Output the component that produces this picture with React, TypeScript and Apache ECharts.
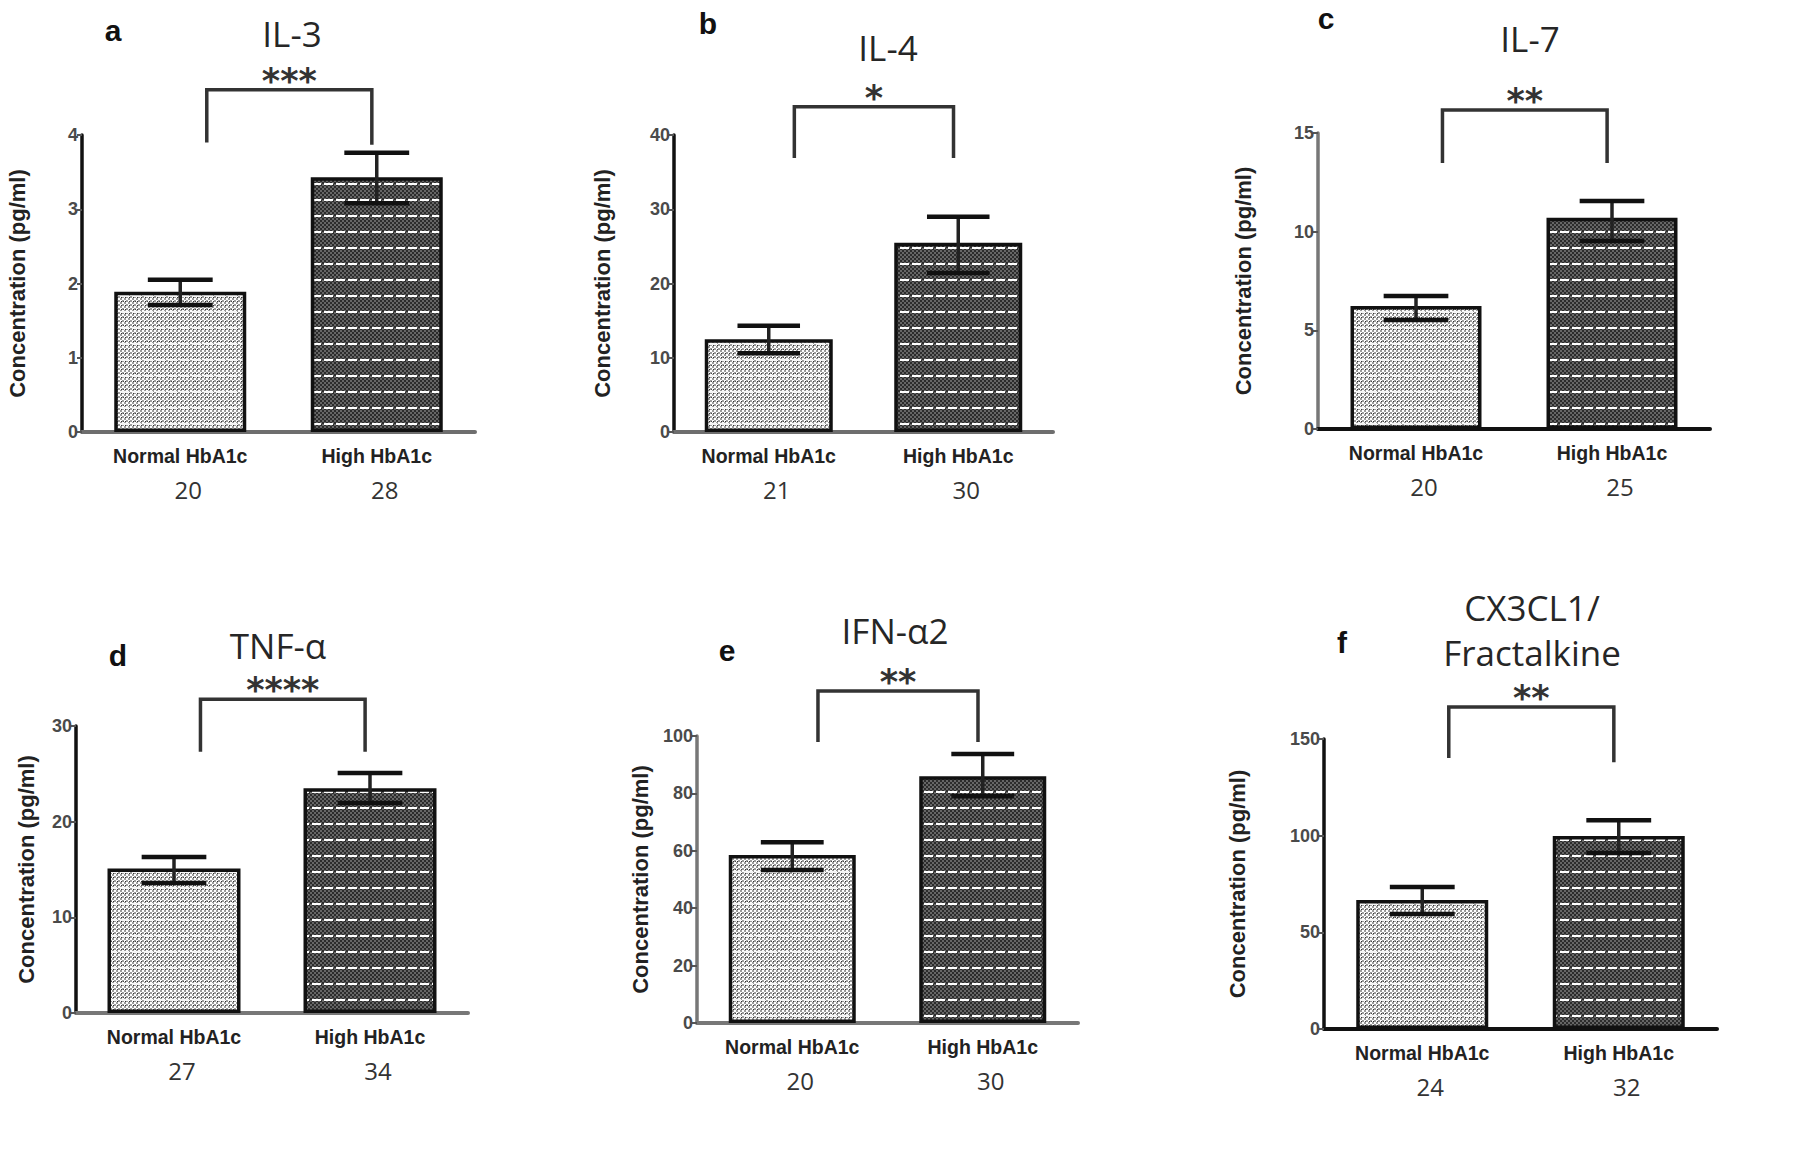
import React, { useEffect, useRef } from 'react';
import * as echarts from 'echarts';

// ---------------- data ----------------
const categories = ['Normal HbA1c', 'High HbA1c'];
const panelLetters = ['a', 'b', 'c', 'd', 'e', 'f'];
const panelTitles = ['IL-3', 'IL-4', 'IL-7', 'TNF-α', 'IFN-α2', 'CX3CL1/\nFractalkine'];
const sampleSizes = [[20, 28], [21, 30], [20, 25], [27, 34], [20, 30], [24, 32]];
const meanValues = [[1.89, 3.43], [12.5, 25.5], [6.23, 10.7], [15.1, 23.5], [58.5, 86], [66.7, 99.8]];
const errLow = [[1.71, 3.08], [10.6, 21.4], [5.52, 9.53], [13.6, 21.95], [53.3, 79], [59.5, 91]];
const errHigh = [[2.05, 3.76], [14.3, 29.0], [6.74, 11.55], [16.3, 25.1], [63, 93.7], [73.4, 108]];
const yMax = [4, 40, 15, 30, 100, 150];
const yInterval = [1, 10, 5, 10, 20, 50];
const significance = ['***', '*', '**', '****', '**', '**'];
const bracketTop = [4.61, 43.8, 16.17, 32.8, 115.7, 166.6];
const bracketLegLeft = [3.9, 36.9, 13.48, 27.3, 97.9, 140.2];
const bracketLegRight = [3.87, 36.9, 13.48, 27.3, 97.9, 138];
const yAxisName = 'Concentration (pg/ml)';

// ---------------- layout ----------------
const grids = [
  { left: 82, top: 135, width: 393, height: 297 },
  { left: 674, top: 135, width: 379, height: 297 },
  { left: 1318, top: 133, width: 392, height: 296 },
  { left: 76, top: 726, width: 392, height: 287 },
  { left: 697, top: 736, width: 381, height: 287 },
  { left: 1324, top: 739, width: 393, height: 290 },
];
const barWidths = [132, 128, 131, 133, 127, 132];
const nameGaps = [54, 61, 64, 39, 46, 76];
const yLineColors = ['#111', '#111', '#777', '#111', '#777', '#111'];
const xLineColors = ['#6e6e6e', '#6e6e6e', '#111', '#777', '#777', '#111'];
const titlePos = [[292, 33], [888, 47], [1530, 38], [278, 645], [895, 630], [1532, 630]];
const letterPos = [[113, 30], [708, 23], [1326, 18], [118, 655], [727, 650], [1342, 642]];

function makePattern(dark: boolean) {
  const w = 12, h = 16;
  const cv = document.createElement('canvas');
  cv.width = w; cv.height = h;
  const ctx = cv.getContext('2d')!;
  for (let y = 0; y < h; y++) {
    for (let x = 0; x < w; x++) {
      const chk = ((x >> 1) + (y >> 1)) % 2 === 0;
      let c;
      if (dark) c = chk ? '#2c2c2c' : '#666666';
      else {
        c = chk ? '#ffffff' : '#9c9c9c';
        if (x % 4 === 1 && y % 4 === 1) c = '#333333';
        if (x % 6 === 3 && y % 8 === 5) c = '#4a4a4a';
      }
      ctx.fillStyle = c;
      ctx.fillRect(x, y, 1, 1);
    }
  }
  // white dashed horizontal line
  ctx.fillStyle = dark ? '#ffffff' : '#f6f6f6';
  ctx.fillRect(0, 7, 9, 2);
  return { image: cv, repeat: 'repeat', imageWidth: w, imageHeight: h } as any;
}

export default function App() {
  const ref = useRef<HTMLDivElement>(null);
  useEffect(() => {
    if (!ref.current) return;
    const chart = echarts.init(ref.current, null, { renderer: 'svg' });
    const lightPat = makePattern(false);
    const darkPat = makePattern(true);

    const gridOpt = grids.map((g) => ({ ...g, containLabel: false }));
    const xAxes = grids.map((_, i) => ({
      type: 'category',
      gridIndex: i,
      data: categories,
      axisLine: { lineStyle: { color: xLineColors[i], width: 4 } },
      axisTick: { alignWithLabel: true, length: 8, lineStyle: { color: xLineColors[i], width: 3 } },
      axisLabel: {
        margin: 13,
        formatter: (v: string, idx: number) => `{n|${v}}\n{c|${sampleSizes[i][idx]}}`,
        rich: {
          n: { fontFamily: 'Liberation Sans', fontWeight: 'bold', fontSize: 19.5, color: '#222', lineHeight: 22 },
          c: { fontFamily: 'Open Sans', fontSize: 24, color: '#333', lineHeight: 44, padding: [0, 0, 0, 16] },
        },
      },
    }));
    const yAxes = grids.map((_, i) => ({
      type: 'value',
      gridIndex: i,
      min: 0,
      max: yMax[i],
      interval: yInterval[i],
      name: yAxisName,
      nameLocation: 'middle',
      nameGap: nameGaps[i],
      nameTextStyle: { fontFamily: 'Liberation Sans', fontWeight: 'bold', fontSize: 22, color: '#222' },
      splitLine: { show: false },
      axisLine: { show: true, lineStyle: { color: yLineColors[i], width: 3.5 } },
      axisTick: { show: true, length: 5, lineStyle: { color: '#555', width: 2 } },
      axisLabel: { fontFamily: 'Liberation Sans', fontWeight: 'bold', fontSize: 18, color: '#4a4a4a', margin: 4 },
    }));

    const series: any[] = [];
    grids.forEach((_, i) => {
      series.push({
        type: 'bar',
        xAxisIndex: i,
        yAxisIndex: i,
        barWidth: barWidths[i],
        z: 2,
        itemStyle: { borderColor: '#111', borderWidth: 3.5 },
        data: meanValues[i].map((v, j) => ({ value: v, itemStyle: { color: j === 0 ? lightPat : darkPat } })),
      });
      series.push({
        type: 'custom',
        xAxisIndex: i,
        yAxisIndex: i,
        z: 5,
        clip: false,
        encode: { x: 0, y: [1, 2] },
        data: categories.map((_c, j) => [j, errLow[i][j], errHigh[i][j]]),
        renderItem: (params: any, api: any) => {
          const x = api.value(0);
          const pHi = api.coord([x, api.value(2)]);
          const pLo = api.coord([x, api.value(1)]);
          const band = api.size([1, 0])[0];
          const hw = band * 0.165;
          return {
            type: 'group',
            children: [
              { type: 'line', shape: { x1: pHi[0], y1: pHi[1], x2: pLo[0], y2: pLo[1] }, style: { stroke: '#222', lineWidth: 3.5 } },
              { type: 'line', shape: { x1: pHi[0] - hw, y1: pHi[1], x2: pHi[0] + hw, y2: pHi[1] }, style: { stroke: '#111', lineWidth: 4.5 } },
              { type: 'line', shape: { x1: pLo[0] - hw, y1: pLo[1], x2: pLo[0] + hw, y2: pLo[1] }, style: { stroke: '#111', lineWidth: 4.5 } },
            ],
          };
        },
      });
      series.push({
        type: 'custom',
        xAxisIndex: i,
        yAxisIndex: i,
        z: 6,
        clip: false,
        encode: { x: 0, y: [1, 2, 3] },
        data: [[0, bracketTop[i], bracketLegLeft[i], bracketLegRight[i]]],
        renderItem: (params: any, api: any) => {
          const top = api.value(1);
          const pL = api.coord([0, top]);
          const pR = api.coord([1, top]);
          const band = api.size([1, 0])[0];
          const xL = pL[0] + 0.135 * band;
          const xR = pR[0] - 0.025 * band;
          const yTop = pL[1];
          const yL = api.coord([0, api.value(2)])[1];
          const yR = api.coord([1, api.value(3)])[1];
          return {
            type: 'group',
            children: [
              {
                type: 'polyline',
                shape: { points: [[xL, yL], [xL, yTop], [xR, yTop], [xR, yR]] },
                style: { stroke: '#333', lineWidth: 3.5, fill: null },
              },
              {
                type: 'text',
                x: (xL + xR) / 2,
                y: yTop - 9,
                style: {
                  text: significance[i],
                  font: 'bold 35px "DejaVu Sans"',
                  fill: '#333',
                  align: 'center',
                  verticalAlign: 'middle',
                  textAlign: 'center',
                  textVerticalAlign: 'middle',
                },
              },
            ],
          };
        },
      });
    });

    const graphics: any[] = [];
    grids.forEach((_, i) => {
      graphics.push({
        type: 'text',
        x: titlePos[i][0],
        y: titlePos[i][1],
        style: {
          text: panelTitles[i],
          font: '35px "Open Sans"',
          lineHeight: 45,
          fill: '#262626',
          align: 'center',
          verticalAlign: 'middle',
          textAlign: 'center',
          textVerticalAlign: 'middle',
        },
      });
      graphics.push({
        type: 'text',
        x: letterPos[i][0],
        y: letterPos[i][1],
        style: {
          text: panelLetters[i],
          font: 'bold 30px "Liberation Sans"',
          fill: '#111',
          align: 'center',
          verticalAlign: 'middle',
          textAlign: 'center',
          textVerticalAlign: 'middle',
        },
      });
    });

    chart.setOption({
      animation: false,
      backgroundColor: '#ffffff',
      grid: gridOpt,
      xAxis: xAxes,
      yAxis: yAxes,
      series,
      graphic: graphics,
    } as any);
    return () => chart.dispose();
  }, []);
  return (
    <div
      ref={ref}
      style={{ position: 'absolute', left: 0, top: 0, width: 1800, height: 1153, background: '#fff' }}
    />
  );
}
